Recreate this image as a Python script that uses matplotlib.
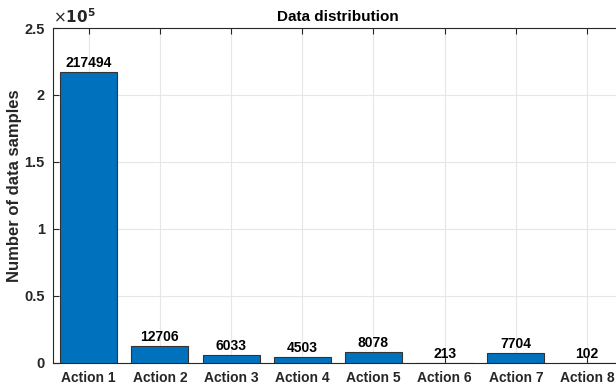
import matplotlib
matplotlib.use("Agg")
import matplotlib.pyplot as plt
import numpy as np

plt.rcParams['font.family'] = ['Liberation Sans', 'DejaVu Sans']

actions = ['Action 1', 'Action 2', 'Action 3', 'Action 4',
           'Action 5', 'Action 6', 'Action 7', 'Action 8']
counts = [217494, 12706, 6033, 4503, 8078, 213, 7704, 102]

fig = plt.figure(figsize=(6.16, 3.89), dpi=100)
ax = fig.add_axes([0.086, 0.067, 0.925, 0.861])

x = np.arange(1, len(actions) + 1)
ax.bar(x, counts, width=0.8, color='#0072BD', edgecolor='#333333', linewidth=0.8, zorder=3)

# count printed above each bar
for xi, c in zip(x, counts):
    ax.text(xi, c + 1500, str(c), ha='center', va='bottom',
            fontsize=10, fontweight='bold', zorder=4)

ax.set_xlim(0.5, 8.5)
ax.set_ylim(0, 250000)
ax.set_xticks(x)
ax.set_xticklabels(actions, fontsize=10, fontweight='bold')
yt = [0, 50000, 100000, 150000, 200000, 250000]
ax.set_yticks(yt)
ax.set_yticklabels(['0', '0.5', '1', '1.5', '2', '2.5'], fontsize=10.5, fontweight='bold')
ax.text(0.0, 1.005, r'$\times\mathbf{10^5}$', transform=ax.transAxes,
        ha='left', va='bottom', fontsize=11, color='#262626')

ax.grid(True, color='#e6e6e6', linewidth=0.8, zorder=0)
ax.set_axisbelow(True)
ax.tick_params(direction='in', length=4, color='#262626', top=True, right=True,
               labelcolor='#262626', pad=6)
for s in ax.spines.values():
    s.set_color('#262626')
    s.set_linewidth(0.8)

ax.set_ylabel('Number of data samples', fontsize=12, fontweight='bold', color='#262626')
ax.yaxis.set_label_coords(-0.054, 0.528)
ax.set_title('Data distribution', fontsize=11, fontweight='bold', pad=5)

fig.savefig('out.png', dpi=100)
